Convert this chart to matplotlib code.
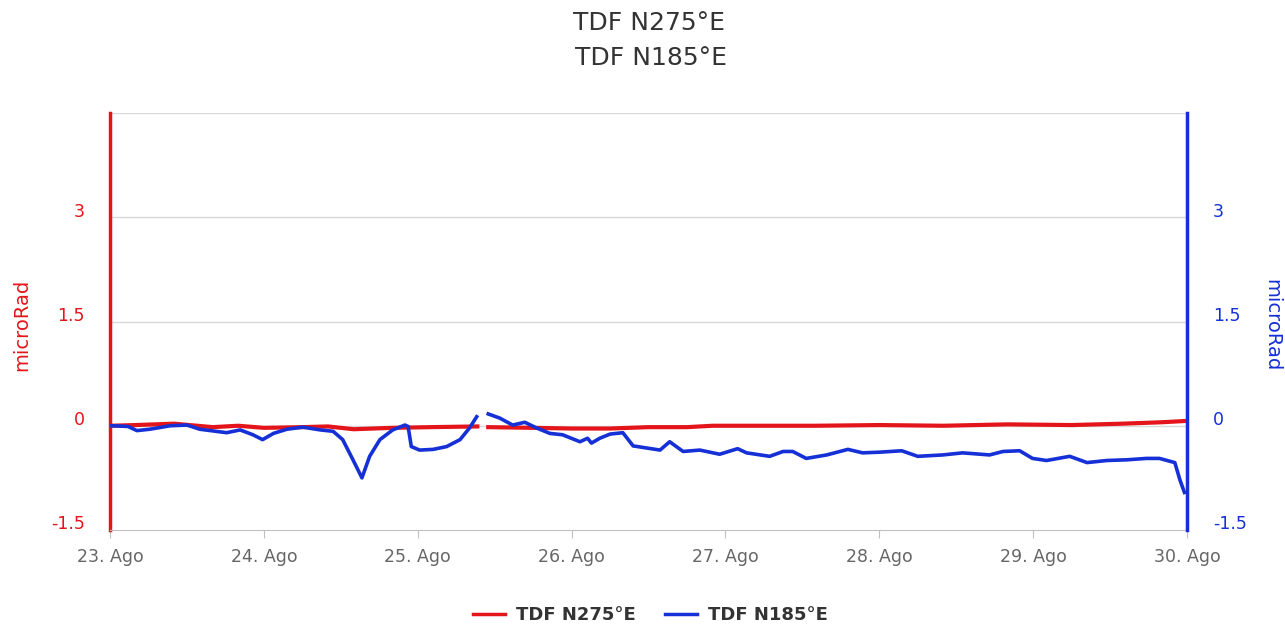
import numpy as np
import matplotlib.pyplot as plt
from matplotlib.lines import Line2D

# hours since 23. Ago 00:00, NaN marks the data gap
red_hours = [0, 4, 10, 16, 20, 24, 30, 34, 38, 44, 50, 57.3,
             57.6,
             59, 66, 72, 78, 84, 90, 94, 100, 110, 120, 130, 140, 150, 158, 164, 168]
red_vals = [0.0, 0.01, 0.03, -0.02, 0.0, -0.03, -0.02, -0.01, -0.05, -0.03, -0.02, -0.01,
            np.nan,
            -0.02, -0.03, -0.04, -0.04, -0.02, -0.02, 0.0, 0.0, 0.0, 0.01, 0.0, 0.02, 0.01, 0.03, 0.05, 0.07]

blue_hours = [0.3, 2.8, 4.2, 6.2, 9.4, 12.0, 14.0, 18.2, 20.3, 22.3, 23.8, 25.5, 27.6, 30.1,
              32.8, 34.8, 36.3, 37.9, 39.3, 40.5, 42.1, 44.1, 46.0, 46.5, 47.0, 48.3, 50.4,
              52.5, 54.6, 56.1, 57.2,
              58.0,
              59.0, 60.8, 62.8, 64.7, 66.5, 68.6, 70.6, 73.3, 74.5, 75.1, 76.4, 78.0, 80.0,
              81.6, 83.7, 85.8, 87.3, 89.4, 92.0, 95.1, 97.9, 99.3, 102.9, 105.0, 106.5,
              108.6, 111.8, 115.1, 117.4, 120.1, 123.5, 126.0, 129.9, 133.0, 137.2, 139.3,
              141.9, 143.9, 146.1, 149.7, 152.4, 155.5, 158.6, 161.7, 163.7, 166.1, 166.9, 167.6]
blue_vals = [0.0, -0.01, -0.07, -0.05, 0.0, 0.01, -0.05, -0.10, -0.06, -0.13, -0.20, -0.11, -0.05, -0.02,
             -0.06, -0.08, -0.20, -0.49, -0.75, -0.44, -0.20, -0.06, 0.01, -0.01, -0.30, -0.35, -0.34,
             -0.30, -0.20, -0.03, 0.13,
             np.nan,
             0.17, 0.11, 0.01, 0.05, -0.03, -0.11, -0.13, -0.23, -0.18, -0.25, -0.18, -0.12, -0.10,
             -0.29, -0.32, -0.35, -0.23, -0.37, -0.35, -0.41, -0.33, -0.39, -0.44, -0.37, -0.37,
             -0.47, -0.42, -0.34, -0.39, -0.38, -0.36, -0.44, -0.42, -0.39, -0.42, -0.37,
             -0.36, -0.47, -0.50, -0.44, -0.53, -0.50, -0.49, -0.47, -0.47, -0.53, -0.78, -0.96]

day_labels = ['23. Ago', '24. Ago', '25. Ago', '26. Ago', '27. Ago', '28. Ago', '29. Ago', '30. Ago']
y_ticks = [-1.5, 0, 1.5, 3]
y_labels = ['-1.5', '0', '1.5', '3']

red = '#e3151b'
blue = '#1530d6'

fig = plt.figure(figsize=(12.85, 6.25), dpi=100)
ax = fig.add_axes([110 / 1285, 95 / 625, 1077 / 1285, 417 / 625])
ax2 = ax.twinx()

ax.set_xlim(0, 7)
ax.set_ylim(-1.5, 4.5)
ax2.set_ylim(-1.5, 4.5)

# grid lines
for g in [0, 1.5, 3, 4.5]:
    ax.axhline(g, color='#d8d8d8', lw=1, zorder=0)

ax.plot(np.array(red_hours) / 24, red_vals, color=red, lw=3, zorder=3)
ax2.plot(np.array(blue_hours) / 24, blue_vals, color=blue, lw=2.6, zorder=3)

for a in (ax, ax2):
    a.spines['top'].set_visible(False)
    a.set_yticks([])
ax.spines['left'].set_color(red)
ax.spines['left'].set_linewidth(2.5)
ax.spines['right'].set_visible(False)
ax2.spines['left'].set_visible(False)
ax2.spines['right'].set_color(blue)
ax2.spines['right'].set_linewidth(2.5)
ax.spines['bottom'].set_color('#c0c0c0')
ax2.spines['bottom'].set_visible(False)

ax.set_xticks(range(len(day_labels)))
ax.set_xticklabels(day_labels, fontsize=12.5, color='#666666')
ax.tick_params(axis='x', length=6, color='#c0c0c0', pad=7)

# y labels placed slightly above their grid lines
for v, s in zip(y_ticks, y_labels):
    ax.text(-25 / 1077 * 7, v + 0.08, s, ha='right', va='center', color=red,
            fontsize=12.5, transform=ax.transData, clip_on=False)
    ax.text(7 + 26 / 1077 * 7, v + 0.08, s, ha='left', va='center', color=blue,
            fontsize=12.5, transform=ax.transData, clip_on=False)

fig.text(22 / 1285, 1 - 325 / 625, 'microRad', rotation=90, ha='center', va='center',
         color=red, fontsize=14)
fig.text(1272 / 1285, 1 - 325 / 625, 'microRad', rotation=270, ha='center', va='center',
         color=blue, fontsize=14)

fig.text(0.505, 1 - 23 / 625, 'TDF N275°E', ha='center', va='center', fontsize=18, color='#333333')
fig.text(0.507, 1 - 58 / 625, 'TDF N185°E', ha='center', va='center', fontsize=18, color='#333333')

handles = [Line2D([], [], color=red, lw=2.5), Line2D([], [], color=blue, lw=2.5)]
leg = fig.legend(handles, ['TDF N275°E', 'TDF N185°E'], loc='center', ncol=2,
                 bbox_to_anchor=(0.506, 1 - 615 / 625), frameon=False,
                 handlelength=1.8, columnspacing=1.6, handletextpad=0.6,
                 prop={'size': 13, 'weight': 'bold'})
for t in leg.get_texts():
    t.set_color('#333333')

fig.savefig('out.png', dpi=100)
